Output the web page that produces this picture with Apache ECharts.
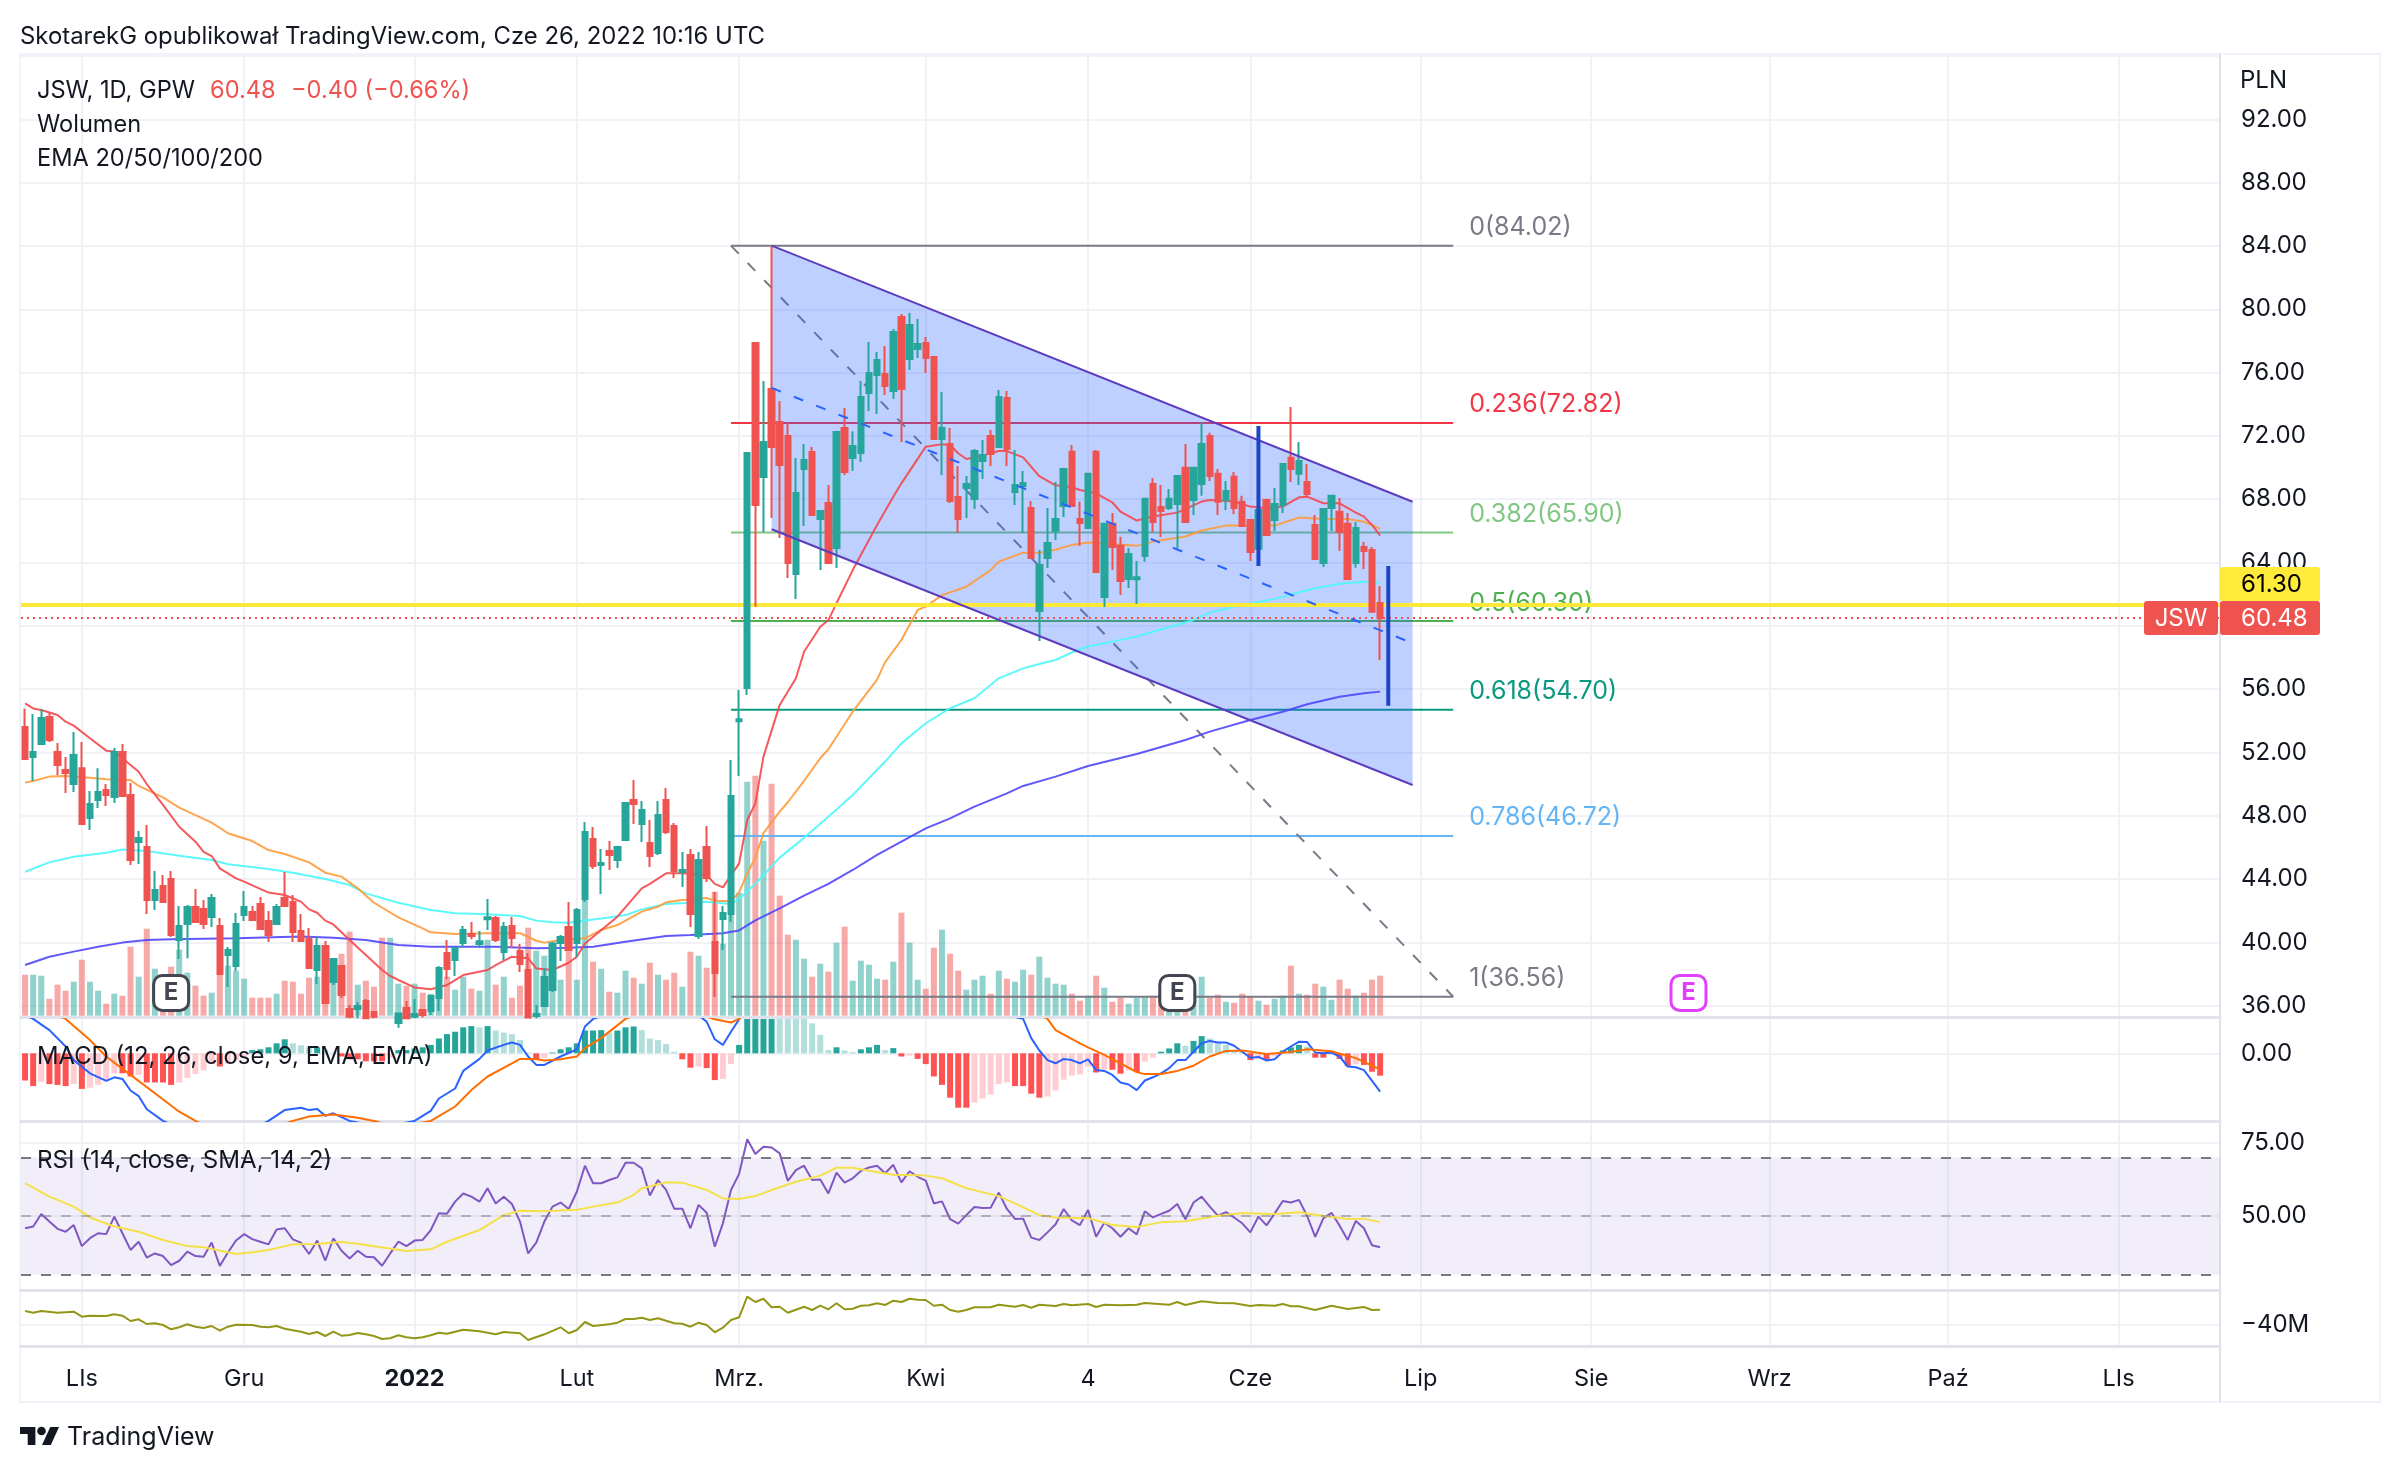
<!DOCTYPE html>
<html>
<head>
<meta charset="utf-8">
<title>JSW, 1D, GPW</title>
<script src="https://cdn.jsdelivr.net/npm/echarts@6/dist/echarts.min.js"></script>
<style>html,body{margin:0;background:#fff}#c{width:2400px;height:1472px}</style>
</head>
<body>
<div id="c"></div>
<script>
// Daily sessions: [open, close, low, high]
const candles = [
[53.60,51.58,51.52,54.78],[51.71,52.02,50.19,54.43],[52.53,54.17,52.53,54.72],[54.24,52.78,52.66,54.55],
[52.02,51.20,50.57,52.59],[50.89,50.70,49.44,51.71],[50.00,51.84,49.50,53.29],[51.00,47.48,47.48,52.66],
[47.85,48.74,47.10,49.56],[48.99,49.50,48.49,51.00],[49.62,49.31,48.61,50.00],[49.18,52.02,48.80,52.28],
[52.02,49.25,49.25,52.53],[49.31,45.20,44.88,50.07],[46.34,46.59,44.95,47.03],[46.02,42.67,41.79,47.41],
[42.67,43.30,42.04,44.50],[43.56,42.55,42.55,44.25],[44.00,40.46,40.33,44.50],[40.14,41.03,38.95,42.30],
[41.16,42.23,39.00,42.36],[42.23,41.28,41.28,43.37],[42.10,41.16,40.84,42.67],[41.60,42.80,40.97,43.05],
[41.03,38.00,37.93,41.54],[39.20,39.51,37.17,39.70],[38.50,41.16,38.19,41.85],[41.73,42.23,41.34,43.24],
[41.91,41.41,41.41,42.30],[42.42,40.84,40.84,42.86],[41.35,40.46,40.02,41.98],[41.16,42.23,41.09,42.42],
[42.80,42.30,42.23,44.44],[42.55,40.65,40.02,42.99],[40.71,40.08,40.08,41.79],[40.21,38.38,38.38,40.90],
[38.25,39.77,37.36,40.33],[39.77,36.16,36.16,40.08],[37.49,38.94,37.30,38.94],[38.50,36.67,36.48,38.57],
[35.78,35.30,35.20,36.04],[35.78,35.98,35.20,36.22],[36.29,35.20,35.20,36.42],[35.60,35.30,35.20,35.66],
[35.00,34.20,34.00,35.10],[34.20,34.90,34.00,35.00],[34.90,35.50,34.60,35.55],[35.85,35.20,35.20,36.29],
[35.30,35.47,35.20,36.42],[35.72,35.40,35.25,35.72],[35.66,36.60,35.40,36.67],[36.48,38.38,35.66,38.50],
[39.32,38.31,37.68,40.14],[38.88,39.64,37.87,39.70],[39.96,40.78,39.70,41.03],[40.53,40.40,40.20,41.28],
[39.90,40.06,39.64,40.71],[41.45,41.58,40.78,42.74],[41.54,40.14,40.02,41.66],[39.39,40.97,38.88,41.28],
[41.03,40.27,39.64,41.60],[39.45,38.63,38.12,39.89],[38.25,35.25,35.20,39.32],[35.35,35.47,35.20,36.04],
[35.98,37.81,35.98,38.38],[36.99,39.93,36.86,40.02],[39.96,40.33,38.82,40.46],[40.97,39.51,39.51,42.55],
[39.96,42.04,39.07,42.17],[42.74,46.97,42.55,47.60],[46.53,44.82,44.63,47.29],[44.88,45.01,43.05,45.90],
[45.77,45.52,44.57,46.40],[45.20,46.02,44.70,46.02],[46.46,48.80,46.46,48.80],[48.99,48.74,47.48,50.26],
[47.48,48.36,46.34,48.93],[46.27,45.45,44.76,47.73],[45.64,48.04,45.52,48.93],[48.99,46.97,46.84,49.75],
[47.35,44.50,44.06,47.54],[44.44,44.57,43.49,45.71],[45.52,41.79,40.97,45.90],[40.40,45.20,40.21,45.71],
[46.02,44.06,43.81,47.35],[40.02,38.06,36.54,43.18],[41.47,41.85,39.51,42.30],[41.79,49.25,41.29,51.52],
[53.96,54.09,50.51,55.94],[56.07,70.92,55.63,70.92],[77.87,67.63,61.21,77.93],[69.40,71.61,65.93,75.47],
[74.96,71.30,66.81,84.02],[72.88,70.16,65.55,74.20],[71.99,63.97,63.02,72.81],[63.27,68.39,61.69,70.60],
[69.91,70.48,66.30,71.49],[70.98,67.00,67.00,71.30],[66.75,67.25,63.52,67.32],[67.76,63.97,63.97,68.90],
[64.91,72.24,63.65,72.24],[72.50,69.72,69.53,73.76],[70.60,71.36,69.78,72.30],[70.92,74.46,70.35,75.47],
[74.71,75.97,73.57,77.93],[75.85,76.80,73.38,77.30],[75.91,75.15,74.58,77.68],[74.84,78.56,74.33,78.75],
[79.51,74.96,71.61,79.70],[76.86,79.00,76.16,79.76],[77.49,77.81,76.92,79.39],[77.87,76.92,75.97,78.25],
[76.98,71.80,71.80,76.98],[71.80,72.50,69.53,74.77],[71.49,67.88,67.76,72.50],[68.14,66.75,65.86,70.10],
[68.71,68.96,66.81,69.46],[68.01,71.04,67.38,71.17],[70.41,70.79,69.28,71.74],[71.99,70.85,70.10,72.37],
[71.30,74.46,71.30,74.90],[74.39,71.17,70.10,74.84],[68.45,68.90,67.63,71.11],[68.83,69.02,65.86,69.78],
[67.44,64.28,64.22,67.88],[60.93,63.84,59.04,64.79],[64.28,65.23,63.65,67.44],[66.00,66.75,65.42,69.09],
[67.57,69.91,66.88,69.98],[70.99,67.57,67.57,71.43],[66.75,66.50,65.05,67.83],[66.18,69.60,66.18,69.60],
[70.99,63.40,63.40,71.11],[61.82,66.44,61.19,66.44],[66.44,64.98,63.53,67.13],[65.05,62.83,61.95,65.62],
[62.96,64.54,62.39,64.92],[62.94,63.07,61.38,64.10],[64.41,68.02,64.04,68.02],[68.96,66.56,65.93,69.34],
[67.51,67.26,65.61,68.90],[67.45,68.02,67.32,68.65],[67.70,69.47,64.92,69.47],[69.98,66.56,66.56,71.49],
[67.95,69.98,67.00,69.98],[68.96,71.49,68.21,72.82],[72.00,69.47,69.15,72.19],[69.60,67.83,67.00,69.91],
[67.95,68.52,67.32,69.15],[69.41,67.45,67.07,69.72],[67.83,66.31,66.31,68.21],[66.69,64.67,64.10,66.69],
[64.86,67.32,64.54,67.32],[67.95,65.74,65.74,68.02],[66.69,67.70,65.99,68.71],[67.64,70.23,67.13,70.23],
[70.61,69.91,69.09,73.83],[69.60,70.42,68.90,71.62],[69.09,68.33,68.12,70.23],[66.37,64.22,64.22,67.00],
[63.97,67.38,63.72,67.38],[67.45,68.21,65.99,68.27],[67.20,65.93,64.73,68.08],[66.44,62.96,62.96,67.13],
[63.97,66.18,63.66,66.56],[64.98,64.73,63.59,65.30],[64.79,60.88,60.81,64.98],[61.44,60.48,57.84,62.52]
];
const volumes = [41,41,40,17,31,25,34,56,34,25,12,22,20,69,39,87,47,41,49,66,43,30,20,23,43,50,45,37,18,18,18,22,35,34,22,38,39,17,36,62,84,31,35,29,78,78,32,30,32,23,22,29,39,26,39,27,25,76,31,39,18,30,88,65,60,36,36,66,36,116,54,47,24,23,45,38,32,53,41,36,43,29,64,60,48,124,72,103,123,234,240,175,232,120,81,76,57,39,52,44,73,89,35,55,51,37,36,54,103,73,36,27,68,86,62,45,26,36,40,22,45,37,34,46,41,59,38,32,31,22,15,20,40,28,14,18,12,18,19,20,22,25,26,24,28,39,18,21,14,13,22,19,15,11,17,20,50,22,21,32,29,16,36,27,20,23,36,40];

// Moving averages as [session, value]
const ema20 = [[0,55.1],[1,54.78],[2,54.68],[4,54.36],[5,53.94],[6,53.69],[8,52.89],[10,52.11],[11,52.05],[13,51.2],[14,50.78],[15,50.0],[17,48.68],[19,47.3],[21,46.36],[22,45.72],[23,45.45],[24,44.67],[26,44.04],[27,43.83],[30,43.14],[32,42.99],[34,42.57],[35,42.08],[36,41.87],[37,41.37],[38,41.13],[40,40.15],[42,39.2],[44,38.25],[45,37.87],[46,37.62],[48,37.15],[50,37.03],[52,37.3],[54,37.93],[57,38.25],[58,38.56],[60,39.09],[62,38.99],[63,38.35],[65,38.25],[67,38.71],[68,39.09],[69,39.93],[73,41.62],[76,43.41],[77,43.69],[79,44.36],[81,44.36],[84,44.25],[85,43.69],[86,43.47],[88,44.99],[89,47.73],[90,48.78],[91,51.73],[93,55.0],[95,56.68],[96,58.36],[98,59.94],[99,60.36],[100,61.42],[102,63.52],[105,66.37],[107,68.16],[108,69.0],[111,71.32],[113,71.47],[114,71.42],[115,70.9],[116,70.54],[118,70.75],[120,71.04],[121,71.04],[123,70.64],[125,69.45],[127,68.88],[129,68.75],[130,68.58],[132,68.37],[134,67.79],[135,67.22],[137,66.65],[139,66.9],[142,67.15],[145,67.85],[146,67.95],[149,67.85],[151,67.53],[153,67.43],[155,67.53],[157,68.12],[158,68.16],[160,67.74],[162,67.74],[164,67.15],[165,66.9],[166,66.37],[167,65.7]];
const ema50 = [[0,50.09],[1,50.19],[3,50.47],[5,50.51],[8,50.4],[10,50.3],[13,50.26],[14,49.88],[17,49.16],[19,48.51],[23,47.56],[25,46.89],[28,46.4],[30,45.83],[32,45.58],[35,45.05],[37,44.4],[39,44.15],[41,43.41],[43,42.5],[46,41.58],[49,40.88],[50,40.63],[53,40.52],[57,40.57],[61,40.57],[63,40.1],[64,39.98],[66,40.14],[69,40.25],[71,40.78],[73,41.09],[76,41.94],[78,42.25],[79,42.53],[81,42.67],[84,42.8],[85,42.63],[87,42.6],[88,43.15],[89,44.36],[90,45.35],[91,46.9],[93,48.26],[94,48.85],[96,50.2],[98,51.63],[99,52.2],[102,54.57],[105,56.6],[106,57.7],[108,59.1],[110,61.0],[111,61.21],[113,61.94],[116,62.47],[119,63.52],[120,64.05],[123,64.62],[125,64.6],[127,64.8],[129,65.11],[131,65.26],[137,65.05],[139,65.32],[143,65.64],[145,66.02],[148,66.33],[152,66.33],[154,66.33],[157,66.84],[160,66.75],[163,66.75],[165,66.58],[167,66.12]];
const ema100 = [[0,44.46],[3,45.05],[6,45.41],[10,45.66],[12,45.87],[15,45.77],[19,45.47],[23,45.2],[25,44.93],[30,44.63],[33,44.4],[37,44.0],[40,43.62],[42,43.09],[46,42.5],[50,42.04],[53,41.83],[57,41.77],[61,41.66],[63,41.37],[65,41.26],[67,41.24],[71,41.51],[74,41.72],[76,42.08],[79,42.42],[82,42.5],[84,42.57],[87,42.42],[88,42.75],[90,43.7],[93,45.35],[96,46.6],[99,47.94],[102,49.31],[106,51.42],[108,52.57],[111,53.84],[114,54.79],[117,55.42],[120,56.68],[123,57.31],[125,57.59],[127,57.84],[129,58.31],[131,58.69],[134,59.0],[137,59.32],[144,60.37],[146,60.83],[150,61.32],[154,61.7],[157,62.12],[159,62.37],[162,62.65],[165,62.79],[167,62.73]];
const ema200 = [[0,38.57],[3,39.09],[6,39.41],[9,39.72],[12,39.98],[15,40.15],[18,40.19],[26,40.25],[34,40.36],[38,40.29],[42,40.15],[46,39.83],[50,39.72],[58,39.72],[63,39.62],[67,39.66],[70,39.72],[74,40.04],[79,40.4],[82,40.46],[86,40.57],[88,40.75],[90,41.39],[93,42.15],[96,42.95],[99,43.69],[102,44.57],[105,45.52],[108,46.36],[111,47.2],[114,47.83],[117,48.57],[121,49.41],[123,49.88],[127,50.47],[131,51.14],[137,51.9],[143,52.78],[146,53.31],[151,54.05],[155,54.57],[158,55.04],[162,55.52],[165,55.73],[167,55.84]];

// Retracement levels
const fibRatios = ['0','0.236','0.382','0.5','0.618','0.786','1'];
const fibPrices = [84.02,72.82,65.90,60.30,54.70,46.72,36.56];
const fibSpan = [87,176];
// Descending channel: anchor sessions, then prices at each anchor
const channelSpan = [92,171];
const channelUpper = [84.02,67.84];
const channelMiddle = [75.03,58.9];
const channelLower = [66.1,49.94];
// Two vertical projections: session, from, to
const projections = [[152,72.63,63.78],[168,63.78,54.95]];
const levelLine = 61.30;
const lastClose = 60.48;
const earningsDone = [18,142];
const earningsNext = [205];
const badgePrice = 36.8;

// MACD
const macdHist = [-.68,-.82,-.71,-.77,-.79,-.82,-.77,-.89,-.86,-.79,-.67,-.5,-.5,-.58,-.54,-.73,-.73,-.73,-.79,-.73,-.62,-.52,-.43,-.27,-.33,-.27,-.17,-.12,.08,.1,.15,.25,.35,.25,.2,.15,.15,.08,.02,-.08,-.15,-.15,-.2,-.2,-.2,-.1,.08,.08,.12,.15,.21,.37,.48,.54,.65,.68,.65,.68,.57,.52,.48,.33,.02,-.17,-.12,.02,.1,.15,.25,.57,.57,.58,.52,.57,.65,.67,.58,.37,.33,.23,.04,-.15,-.36,-.33,-.37,-.67,-.64,-.27,.21,1.2,1.5,1.8,2.0,1.9,1.6,1.3,1.0,.75,.46,.08,.15,.07,.03,.1,.15,.21,.08,.13,-.08,-.06,-.14,-.27,-.58,-.79,-1.11,-1.36,-1.36,-1.23,-1.13,-1.03,-.77,-.73,-.82,-.82,-1.01,-1.11,-1.08,-.93,-.66,-.56,-.53,-.33,-.48,-.41,-.41,-.51,-.43,-.47,-.21,-.11,.04,.12,.25,.19,.31,.43,.37,.27,.21,.08,.04,-.17,-.14,-.17,-.08,.07,.15,.21,.17,-.11,-.11,-.04,-.14,-.32,-.27,-.29,-.46,-.56];
const macdLine = [[0,.95],[1,.86],[3,.58],[5,.17],[6,-.17],[8,-.5],[10,-.69],[11,-.6],[12,-.64],[13,-.93],[14,-1.07],[15,-1.4],[17,-1.69],[20,-1.95],[24,-2.1],[28,-1.9],[30,-1.69],[32,-1.42],[34,-1.36],[35,-1.42],[36,-1.39],[37,-1.56],[38,-1.5],[40,-1.69],[44,-1.85],[48,-1.69],[50,-1.44],[51,-1.13],[53,-.88],[54,-.44],[55,-.29],[56,-.14],[57,.07],[59,.21],[60,.27],[61,.21],[62,-.08],[63,-.29],[64,-.29],[66,-.08],[68,.1],[69,.67],[70,.86],[72,1.0],[76,1.2],[80,1.1],[83,.95],[84,.79],[85,.35],[86,.21],[87,.54],[88,.85],[90,2],[94,3.5],[100,3.0],[110,1.9],[120,1.0],[123,.86],[124,.38],[125,.07],[126,-.17],[127,-.25],[128,-.14],[129,-.17],[130,-.25],[131,-.15],[132,-.42],[133,-.44],[134,-.54],[135,-.73],[136,-.78],[137,-.92],[138,-.68],[139,-.6],[140,-.5],[141,-.37],[142,-.17],[143,-.17],[144,.04],[145,.25],[146,.31],[147,.27],[148,.27],[149,.19],[150,.04],[151,-.11],[152,-.09],[153,-.18],[154,-.15],[155,.04],[156,.17],[157,.29],[158,.28],[159,.02],[160,0],[161,.02],[162,-.08],[163,-.33],[164,-.35],[165,-.42],[166,-.69],[167,-.96]];
const macdSignal = [[0,1.3],[5,.86],[8,.33],[10,-.08],[13,-.54],[16,-1.0],[19,-1.46],[21,-1.69],[25,-2.1],[30,-1.9],[33,-1.69],[35,-1.58],[38,-1.53],[41,-1.61],[43,-1.69],[46,-1.85],[50,-1.69],[53,-1.33],[55,-.92],[57,-.58],[60,-.25],[61,-.14],[63,-.14],[64,-.18],[66,-.15],[68,-.08],[69,.13],[71,.38],[74,.86],[78,1.2],[82,1.05],[85,.85],[87,.77],[88,.86],[95,2.3],[105,3.0],[115,2.0],[126,.86],[127,.58],[130,.25],[131,.15],[133,-.04],[135,-.25],[137,-.47],[138,-.52],[140,-.52],[142,-.44],[144,-.31],[146,-.08],[148,.06],[150,.07],[153,-.02],[156,.03],[158,.1],[161,.05],[164,-.12],[167,-.4]];

// RSI and its moving average
const rsi = [45.8,46.4,50.7,48.1,45.6,44.6,46.9,39.7,42.4,44.1,43.8,49.8,44.1,38.4,41.2,35.8,37.2,36.3,33.2,34.7,37.8,36.3,36.1,40.9,32.9,37.5,41.6,43.8,42.1,41.2,40.3,45.4,45.8,42.0,40.9,37.0,41.6,34.7,42.4,38.1,35.5,38.1,36.1,35.9,33.0,37.2,41.2,39.7,41.6,41.8,45.2,50.9,50.8,54.9,57.7,56.6,54.9,59.5,54.3,56.6,54.1,48.1,37.2,40.9,48.1,53.2,54.6,52.4,58.3,67.2,61.2,61.2,62.3,63.2,68.2,68.2,66.3,57.0,62.3,58.9,52.5,52.5,45.8,53.8,51.1,39.5,47.5,58.9,64.4,76.2,71.2,73.7,73.4,71.4,62.0,65.7,67.2,62.3,62.5,57.7,64.8,61.4,62.9,65.4,66.6,67.2,64.6,67.5,61.5,65.3,63.4,62.1,54.3,55.0,48.9,47.4,50.3,53.1,52.7,52.8,58.0,52.4,49.0,49.1,42.6,41.8,44.4,47.2,52.4,48.5,46.9,52.1,42.9,47.7,45.8,42.9,45.8,43.7,51.6,49.5,50.7,51.8,54.1,48.9,54.6,56.6,53.2,50.1,51.3,49.5,47.5,44.4,49.8,46.8,50.9,55.1,54.6,55.5,50,42.9,49.2,51.1,46.7,41.8,48.3,45.8,40.0,39.3];
const rsiAverage = [[0,61.2],[3,56.6],[6,53.2],[8,49.5],[11,46.4],[14,44.6],[17,41.8],[20,39.7],[22,39.3],[26,37.0],[28,37.6],[30,38.4],[33,40.3],[36,40.4],[39,41.2],[42,40.1],[47,38.0],[50,38.6],[52,41.2],[56,45.2],[59,50.3],[61,51.8],[64,51.6],[68,52.1],[70,53.2],[73,54.6],[75,57.2],[76,59.5],[79,61.5],[81,61.4],[84,58.9],[86,56.0],[88,55.8],[90,56.8],[92,58.9],[95,61.7],[98,63.8],[100,66.5],[102,66.5],[104,65.5],[107,64.1],[111,63.8],[113,62.9],[116,59.5],[120,56.8],[122,54.3],[125,50.3],[127,49.5],[131,49.2],[134,46.9],[137,46.2],[140,47.9],[143,48.2],[147,50.1],[150,51.0],[154,50.7],[157,51.3],[160,50],[163,49],[165,49.1],[167,47.9]];
const rsiBands = [70,50,30];

// Cumulative volume line, millions
const flowLine = [[0,-26],[1,-27.7],[2,-26],[4,-27.7],[6,-26.7],[7,-31.7],[8,-30.7],[10,-31],[11,-29.3],[12,-30.7],[13,-36],[14,-34.3],[15,-39],[16,-38.3],[17,-40],[18,-44.3],[19,-42.3],[20,-39.3],[21,-41.7],[22,-43],[23,-41],[24,-45.7],[25,-41.7],[26,-39.7],[28,-40],[29,-41.7],[30,-42.3],[31,-41],[32,-43.7],[34,-46.7],[35,-49],[36,-47],[37,-51],[38,-46.7],[39,-50.7],[40,-50],[41,-48],[42,-49.3],[43,-51],[44,-54],[45,-53.3],[46,-50.3],[47,-52.3],[48,-53.3],[49,-52.3],[50,-50.3],[51,-47.7],[52,-48.7],[54,-44.7],[56,-46.3],[58,-49.3],[59,-47],[61,-48.3],[62,-55],[64,-49.3],[66,-42.3],[67,-48.3],[68,-45],[69,-37],[70,-41],[72,-39.3],[73,-37.7],[74,-34],[75,-34],[76,-32.7],[77,-35],[78,-33.3],[80,-38.3],[81,-38.7],[82,-41.7],[83,-37.7],[84,-40],[85,-47.3],[86,-42.7],[87,-35],[88,-32.3],[89,-11.7],[90,-17],[91,-13.7],[92,-22.3],[93,-21.7],[94,-27.7],[96,-21.7],[97,-25],[98,-20.7],[99,-24.3],[100,-18.3],[101,-24.3],[102,-23.7],[103,-20.7],[104,-20.3],[105,-18.3],[106,-20],[107,-15.7],[108,-17],[109,-13.7],[110,-14.7],[111,-15],[112,-20.7],[113,-19.7],[114,-25],[115,-26.7],[116,-25],[117,-22.3],[119,-22.3],[120,-19.7],[122,-21.7],[123,-20],[124,-22.7],[125,-19.7],[127,-21],[128,-19],[129,-20.3],[131,-19],[132,-22],[133,-19.7],[135,-20.3],[137,-19.7],[138,-18],[141,-19.7],[142,-17],[143,-20],[145,-16.3],[147,-18],[149,-18.3],[151,-21],[152,-20],[154,-20.7],[155,-19],[156,-21.3],[157,-21.3],[159,-25],[161,-20.7],[163,-24],[165,-22],[166,-25],[167,-24.7]];

// Time scale
const sessionCount = 271;
const tickIndex = [7,27,48,68,88,111,131,151,172,193,215,237,258];
const tickLabel = ['LIs','Gru','2022','Lut','Mrz.','Kwi','4','Cze','Lip','Sie','Wrz','Paź','LIs'];
const priceTicks = [36,40,44,48,52,56,60,64,68,72,76,80,84,88,92];
const priceGrid = priceTicks.concat([96]);

const FONT = 'Inter';
const INK = '#131722';
const GRID = '#f1f2f5';
const UP = '#26a69a', DOWN = '#ef5350';
const fibColors = ['#787b86','#f23645','#81c784','#4caf50','#089981','#64b5f6','#787b86'];
const sessions = Array.from({length: sessionCount}, (_, i) => 'd' + i);
const tickName = i => tickLabel[tickIndex.indexOf(i)];
const isTick = i => tickIndex.includes(i);

const panes = [
  {top: 54, height: 963},
  {top: 1019, height: 102},
  {top: 1123, height: 167},
  {top: 1292, height: 54}
];
const grid = panes.map(p => ({left: 21, width: 2199, top: p.top, height: p.height}));

const xAxis = panes.map((p, n) => ({
  type: 'category', gridIndex: n, data: sessions, boundaryGap: true,
  axisLine: {show: true, onZero: false, lineStyle: {color: '#e0e3eb', width: 3}},
  axisTick: {show: false},
  splitLine: {show: true, alignWithLabel: true, interval: i => isTick(i), lineStyle: {color: GRID, width: 2}},
  axisLabel: n === 3 ? {
    show: true, interval: i => isTick(i), margin: 21, fontFamily: FONT, fontSize: 23.5, color: INK,
    formatter: (v, i) => tickName(i) === '2022' ? '{y|2022}' : tickName(i),
    rich: {y: {fontFamily: FONT, fontSize: 23.5, fontWeight: 'bold', color: INK}}
  } : {show: false}
}));

const scaleAxis = (gridIndex, min, max, ticks, labels, fmt) => ({
  type: 'value', gridIndex, position: 'right', min, max, scale: true,
  axisLine: {show: true, lineStyle: {color: '#e0e3eb', width: 2}},
  axisTick: {show: false, customValues: ticks},
  splitLine: {show: true, lineStyle: {color: GRID, width: 2}},
  axisLabel: {show: true, customValues: labels, margin: 21, padding: [7, 0, 0, 0], fontFamily: FONT, fontSize: 24, color: INK, formatter: fmt}
});
const yAxis = [
  scaleAxis(0, 35.28, 96.13, priceGrid, priceTicks, v => v.toFixed(2)),
  {type: 'value', gridIndex: 0, min: -1.3, max: 961.7, show: false},
  scaleAxis(1, -1.6925, 0.8575, [0], [0], v => v.toFixed(2)),
  scaleAxis(2, 24.7, 81.79, [50, 75], [50, 75], v => v.toFixed(2)),
  scaleAxis(3, -61, -7, [-40], [-40], v => '\u2212' + Math.abs(v) + 'M')
];

const plain = {symbol: 'none', showSymbol: false, silent: true, animation: false};
const priceLine = (data, color, z, width, extra) => Object.assign({
  type: 'line', xAxisIndex: 0, yAxisIndex: 0, data, z,
  lineStyle: {color, width: width || 2}
}, plain, extra || {});
const emaLine = (data, color) => priceLine(data, color, 4.7, 2, {lineStyle: {color, width: 2, opacity: .9}});

const series = [];

// Volume columns behind everything in the price pane
series.push({
  type: 'bar', xAxisIndex: 0, yAxisIndex: 1, barWidth: 6, z: 1, silent: true,
  data: volumes.map((v, i) => ({
    value: v,
    itemStyle: {color: candles[i][1] >= candles[i][0] ? 'rgba(38,166,154,.5)' : 'rgba(239,83,80,.5)'}
  }))
});

// Retracement levels with their captions
fibPrices.forEach((p, n) => {
  series.push(priceLine([[fibSpan[0], p], [fibSpan[1], p]], fibColors[n], 2, 2, {
    endLabel: {
      show: true, offset: [8, -18],
      formatter: fibRatios[n] + '(' + p.toFixed(2) + ')',
      fontFamily: FONT, fontSize: 25, color: fibColors[n]
    }
  }));
});
series.push(priceLine([[fibSpan[0], fibPrices[0]], [fibSpan[1], fibPrices[6]]], '#787b86', 2, 2,
  {lineStyle: {color: '#787b86', width: 2, type: [11, 13]}}));

// EMA 20/50/100/200, over the channel fill and under the candles
series.push(emaLine(ema200, '#5046fa'));
series.push(emaLine(ema100, '#4df7fb'));
series.push(emaLine(ema50, '#ff9a3c'));
series.push(emaLine(ema20, '#f4474c'));

// Horizontal price mark across the full pane
series.push(priceLine([[0, levelLine]], '#ffeb3b', 4.8, 4, {
  markLine: {symbol: 'none', silent: true, animation: false, label: {show: false},
    data: [{yAxis: levelLine}], lineStyle: {color: '#fdea38', width: 4, type: 'solid'}}
}));

// Channel fill, over the grid and retracement lines
series.push({
  type: 'custom', xAxisIndex: 0, yAxisIndex: 0, z: 4.5, silent: true, animation: false,
  data: [[channelSpan[0], channelUpper[0], channelSpan[1], channelUpper[1], channelLower[1], channelLower[0]]],
  encode: {x: 0, y: 1},
  renderItem: (params, api) => ({
    type: 'polygon',
    shape: {points: [
      api.coord([api.value(0), api.value(1)]),
      api.coord([api.value(2), api.value(3)]),
      api.coord([api.value(2), api.value(4)]),
      api.coord([api.value(0), api.value(5)])
    ]},
    style: {fill: 'rgba(41,98,255,.3)'}
  })
});

// Candles
series.push({
  type: 'candlestick', xAxisIndex: 0, yAxisIndex: 0, z: 5, silent: true, barWidth: 6,
  data: candles,
  itemStyle: {color: UP, color0: DOWN, borderColor: UP, borderColor0: DOWN, borderColorDoji: UP, borderWidth: 2}
});

// Channel outline and centre line
series.push(priceLine([[channelSpan[0], channelUpper[0]], [channelSpan[1], channelUpper[1]]], '#5e3cbc', 6));
series.push(priceLine([[channelSpan[0], channelLower[0]], [channelSpan[1], channelLower[1]]], '#5e3cbc', 6));
series.push(priceLine([[channelSpan[0], channelMiddle[0]], [channelSpan[1], channelMiddle[1]]], '#2962ff', 6, 2,
  {lineStyle: {color: '#2962ff', width: 2, type: [10, 14]}}));

// Last close, dotted
series.push(priceLine([[0, lastClose]], DOWN, 6, 2, {
  markLine: {symbol: 'none', silent: true, animation: false, label: {show: false},
    data: [{yAxis: lastClose}], lineStyle: {color: DOWN, width: 2, type: [2, 4]}}
}));

// Vertical projections
projections.forEach(v => series.push(priceLine([[v[0], v[1]], [v[0], v[2]]], '#1c45c6', 7, 4)));

// Earnings badges
const badge = (list, color) => ({
  type: 'scatter', xAxisIndex: 0, yAxisIndex: 0, z: 8, silent: true, animation: false,
  symbol: 'roundRect', symbolSize: 35,
  data: list.map(i => [i, badgePrice]),
  itemStyle: {color: '#fff', borderColor: color, borderWidth: 3, opacity: 1},
  label: {show: true, position: 'inside', formatter: 'E', fontFamily: FONT, fontSize: 24, fontWeight: 'bold', color}
});
series.push(badge(earningsDone, '#434651'));
series.push(badge(earningsNext, '#e040fb'));

// MACD pane
series.push({
  type: 'bar', xAxisIndex: 1, yAxisIndex: 2, barWidth: 6, z: 2, silent: true,
  data: macdHist.map((v, i) => {
    const prev = i ? macdHist[i - 1] : v;
    const color = v >= 0 ? (v >= prev ? '#26a69a' : '#b2dfdb') : (v <= prev ? '#ff5252' : '#ffcdd2');
    return {value: v, itemStyle: {color}};
  })
});
series.push(Object.assign({type: 'line', xAxisIndex: 1, yAxisIndex: 2, z: 3, data: macdLine, lineStyle: {color: '#2962ff', width: 2}}, plain));
series.push(Object.assign({type: 'line', xAxisIndex: 1, yAxisIndex: 2, z: 3, data: macdSignal, lineStyle: {color: '#ff6d00', width: 2}}, plain));

// RSI pane
series.push(Object.assign({
  type: 'line', xAxisIndex: 2, yAxisIndex: 3, z: 3, data: rsi, lineStyle: {color: '#7e57c2', width: 2},
  markArea: {silent: true, animation: false, data: [[{yAxis: rsiBands[0]}, {yAxis: rsiBands[2]}]], itemStyle: {color: 'rgba(126,87,194,.1)'}},
  markLine: {symbol: 'none', silent: true, animation: false, label: {show: false}, data: [
    {yAxis: rsiBands[0], lineStyle: {color: '#787b86', width: 2, type: [10, 10]}},
    {yAxis: rsiBands[1], lineStyle: {color: 'rgba(120,123,134,.5)', width: 2, type: [10, 10]}},
    {yAxis: rsiBands[2], lineStyle: {color: '#787b86', width: 2, type: [10, 10]}}
  ]}
}, plain));
series.push(Object.assign({type: 'line', xAxisIndex: 2, yAxisIndex: 3, z: 3, data: rsiAverage, lineStyle: {color: '#f5e04a', width: 2}}, plain));

// Flow pane
series.push(Object.assign({type: 'line', xAxisIndex: 3, yAxisIndex: 4, z: 3, data: flowLine, lineStyle: {color: '#949617', width: 2}}, plain));

// Caption, legends, price tags, frame and logo
const text = (x, y, t, opt) => ({
  type: 'text', x, y, z: 100, silent: true,
  style: Object.assign({text: t, fontFamily: FONT, fontSize: 23.6, fill: INK, textVerticalAlign: 'middle'}, opt || {})
});
const box = (x, y, w, h, fill) => ({type: 'rect', z: 90, silent: true, shape: {x, y, width: w, height: h, r: 3}, style: {fill}});
const logoShape = pts => pts.map(p => [20 + p[0] * 1.1, 1427 + (p[1] - 4)]);
const elements = [
  {type: 'rect', z: -1, silent: true, shape: {x: 20, y: 54, width: 2360, height: 1348}, style: {fill: 'none', stroke: '#f0f3fa', lineWidth: 2}},
  {type: 'line', z: 5, silent: true, shape: {x1: 2220, y1: 1347, x2: 2220, y2: 1402}, style: {stroke: '#e0e3eb', lineWidth: 2}},
  text(20, 37, 'SkotarekG opublikował TradingView.com, Cze 26, 2022 10:16 UTC', {fontSize: 23.9}),
  text(37, 91, 'JSW, 1D, GPW'),
  text(210, 91, '60.48', {fill: DOWN}),
  text(291, 91, '\u22120.40 (\u22120.66%)', {fill: DOWN}),
  text(37, 125, 'Wolumen'),
  text(37, 159, 'EMA 20/50/100/200'),
  text(37, 1057, 'MACD (12, 26, close, 9, EMA, EMA)', {fontSize: 23.85}),
  text(37, 1161, 'RSI (14, close, SMA, 14, 2)', {fontSize: 24.1}),
  text(2240, 81, 'PLN', {fontSize: 24}),
  box(2220, 567, 100, 34, '#ffeb3b'),
  text(2241, 585, levelLine.toFixed(2), {fill: '#000', fontSize: 24}),
  box(2220, 601, 100, 34, DOWN),
  text(2241, 619, lastClose.toFixed(2), {fill: '#fff', fontSize: 24}),
  box(2144, 601, 74, 34, DOWN),
  text(2181, 619, 'JSW', {fill: '#fff', textAlign: 'center', fontSize: 24}),
  {type: 'polygon', z: 100, silent: true, shape: {points: logoShape([[0,4],[14,4],[14,22],[7,22],[7,11],[0,11]])}, style: {fill: INK}},
  {type: 'polygon', z: 100, silent: true, shape: {points: logoShape([[28,22],[20,22],[27.5,4],[35.5,4]])}, style: {fill: INK}},
  {type: 'circle', z: 100, silent: true, shape: {cx: 41.5, cy: 1431, r: 4.3}, style: {fill: INK}},
  text(67, 1437, 'TradingView', {fontSize: 25})
];

const chart = echarts.init(document.getElementById('c'), null, {renderer: 'canvas'});
chart.setOption({
  animation: false, backgroundColor: '#fff',
  grid, xAxis, yAxis, series,
  graphic: {elements}
});
</script>
</body>
</html>
